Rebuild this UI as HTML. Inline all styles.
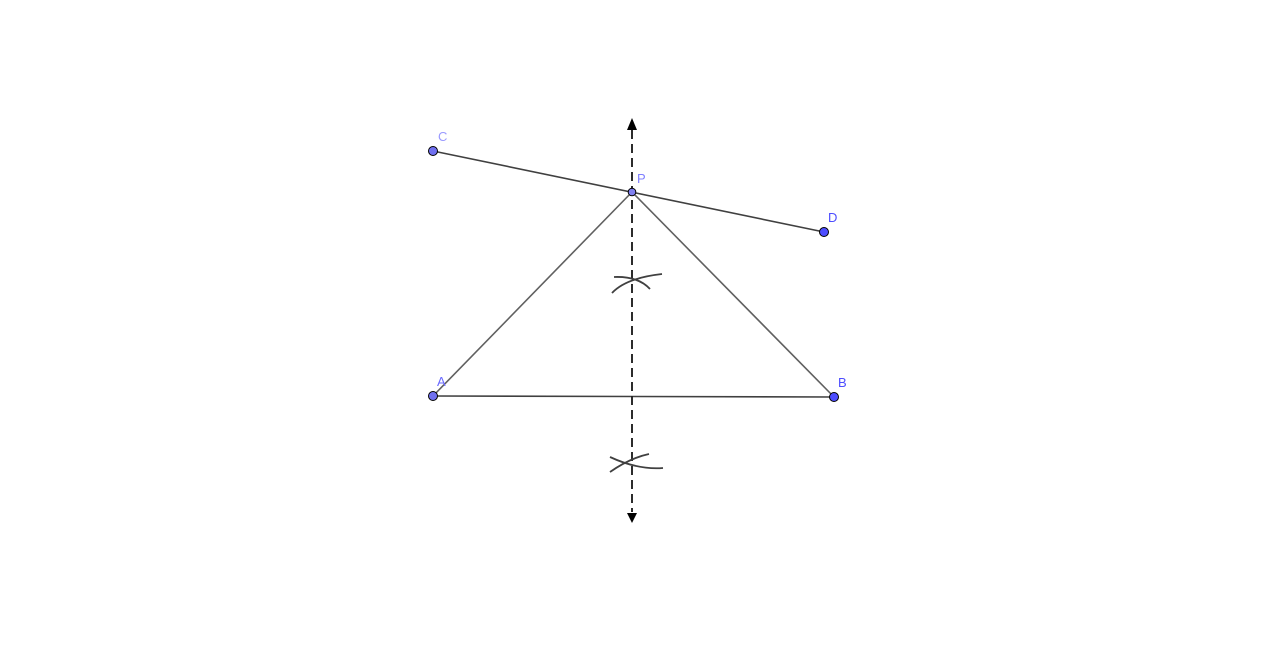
<!DOCTYPE html>
<html><head><style>html,body{margin:0;padding:0;background:#fff;}svg{display:block}</style></head>
<body>
<svg width="1280" height="648" viewBox="0 0 1280 648" xmlns="http://www.w3.org/2000/svg">
<g stroke="#404040" stroke-width="1.6" fill="none">
<line x1="433" y1="151" x2="824" y2="232"/>
<line x1="433" y1="396" x2="632" y2="192" stroke="#606060"/>
<line x1="632" y1="192" x2="834" y2="397" stroke="#606060"/>
<line x1="433" y1="396" x2="834" y2="397"/>
<line x1="632" y1="130" x2="632" y2="512" stroke="#222" stroke-width="1.9" stroke-dasharray="9,5"/>
<path d="M612 293 Q626 278 662 274" stroke-width="1.8"/>
<path d="M614 277 Q638 276 650 289" stroke-width="1.8"/>
<path d="M610 457 Q638 470 663 468" stroke-width="1.8"/>
<path d="M610 472 Q630 458 649 454" stroke-width="1.8"/>
</g>
<polygon points="632,118 627,130 637,130" fill="#000"/>
<polygon points="632,523 627,513 637,513" fill="#000"/>
<g stroke="#000" stroke-width="1" fill="#6a6aff">
<circle cx="433" cy="151" r="4.5" fill="#7070f0"/>
<circle cx="824" cy="232" r="4.5" fill="#4d4dff"/>
<circle cx="632" cy="192" r="3.8" fill="#8080f0"/>
<circle cx="433" cy="396" r="4.5" fill="#7070f0"/>
<circle cx="834" cy="397" r="4.5" fill="#4d4dff"/>
</g>
<g font-family="Liberation Sans, sans-serif" font-size="13">
<text x="438" y="141" fill="#9a9aff">C</text>
<text x="828" y="222" fill="#4d4dff">D</text>
<text x="637" y="183" fill="#8080ff">P</text>
<text x="437" y="386" fill="#6a6aff">A</text>
<text x="838" y="387" fill="#4d4dff">B</text>
</g>
</svg>
</body></html>
